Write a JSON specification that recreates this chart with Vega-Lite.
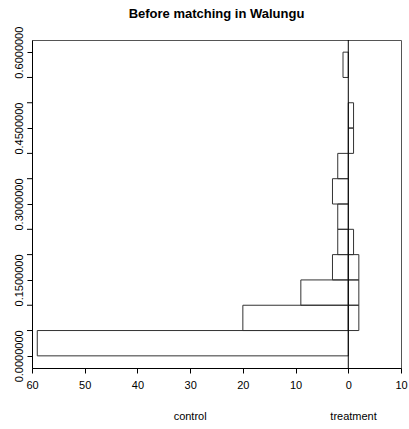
{
  "$schema": "https://vega.github.io/schema/vega-lite/v6.json",
  "width": 369,
  "height": 328,
  "autosize": {"type": "none"},
  "padding": {"left": 32, "top": 40, "right": 8, "bottom": 61},
  "background": "white",
  "title": {"text": "Before matching in Walungu", "fontSize": 13, "font": "Liberation Sans", "fontWeight": "bold", "anchor": "middle", "offset": -5, "baseline": "alphabetic", "color": "black"},
  "config": {"view": {"stroke": "#555", "strokeWidth": 1}, "font": "Liberation Sans"},
  "datasets": {
    "bars": [
      {"group": "control", "bin_start": 0.00, "bin_end": 0.05, "count": -59},
      {"group": "control", "bin_start": 0.05, "bin_end": 0.10, "count": -20},
      {"group": "control", "bin_start": 0.10, "bin_end": 0.15, "count": -9},
      {"group": "control", "bin_start": 0.15, "bin_end": 0.20, "count": -3},
      {"group": "control", "bin_start": 0.20, "bin_end": 0.25, "count": -2},
      {"group": "control", "bin_start": 0.25, "bin_end": 0.30, "count": -2},
      {"group": "control", "bin_start": 0.30, "bin_end": 0.35, "count": -3},
      {"group": "control", "bin_start": 0.35, "bin_end": 0.40, "count": -2},
      {"group": "control", "bin_start": 0.55, "bin_end": 0.60, "count": -1},
      {"group": "treatment", "bin_start": 0.05, "bin_end": 0.10, "count": 2},
      {"group": "treatment", "bin_start": 0.10, "bin_end": 0.15, "count": 2},
      {"group": "treatment", "bin_start": 0.15, "bin_end": 0.20, "count": 2},
      {"group": "treatment", "bin_start": 0.20, "bin_end": 0.25, "count": 1},
      {"group": "treatment", "bin_start": 0.40, "bin_end": 0.45, "count": 1},
      {"group": "treatment", "bin_start": 0.45, "bin_end": 0.50, "count": 1}
    ],
    "zeroline": [{"v": 0}],
    "minorticks": [
      {"t": 0.05}, {"t": 0.10}, {"t": 0.20}, {"t": 0.25},
      {"t": 0.35}, {"t": 0.40}, {"t": 0.50}, {"t": 0.55}
    ],
    "labels": [
      {"label": "control", "pos": -30, "ypos": -0.121},
      {"label": "treatment", "pos": 1, "ypos": -0.121}
    ]
  },
  "layer": [
    {
      "data": {"name": "bars"},
      "mark": {"type": "rect", "fill": "white", "fillOpacity": 0, "stroke": "#333", "strokeWidth": 1},
      "encoding": {
        "y": {
          "field": "bin_start", "type": "quantitative",
          "scale": {"domain": [-0.024, 0.624], "nice": false, "zero": false},
          "axis": {
            "values": [0, 0.15, 0.3, 0.45, 0.6],
            "format": ".7f",
            "labelAngle": 270, "labelAlign": "center", "labelBaseline": "bottom",
            "grid": false, "title": null, "tickSize": 5, "labelPadding": 3,
            "labelFlush": false, "labelOverlap": false, "labelFontSize": 11,
            "labelColor": "black", "tickColor": "black", "domainColor": "black", "labelFont": "Liberation Sans"
          }
        },
        "y2": {"field": "bin_end"},
        "x": {
          "field": "count", "type": "quantitative",
          "scale": {"domain": [-60, 10], "nice": false, "zero": false},
          "axis": {
            "values": [-60, -50, -40, -30, -20, -10, 0, 10],
            "labelExpr": "abs(datum.value)",
            "grid": false, "title": null, "tickSize": 5, "labelPadding": 6,
            "labelFlush": false, "labelOverlap": false, "labelFontSize": 11,
            "labelColor": "black", "tickColor": "black", "domainColor": "black", "labelFont": "Liberation Sans"
          }
        },
        "x2": {"datum": 0}
      }
    },
    {
      "data": {"name": "minorticks"},
      "mark": {"type": "rule", "color": "black", "strokeWidth": 1, "clip": false},
      "encoding": {
        "y": {"field": "t", "type": "quantitative"},
        "x": {"datum": -60.95},
        "x2": {"datum": -60}
      }
    },
    {
      "data": {"name": "zeroline"},
      "mark": {"type": "rule", "color": "black", "strokeWidth": 1},
      "encoding": {"x": {"field": "v", "type": "quantitative"}}
    },
    {
      "data": {"name": "labels"},
      "mark": {"type": "text", "fontSize": 11, "font": "Liberation Sans", "color": "black", "baseline": "middle", "align": "center"},
      "encoding": {
        "x": {"field": "pos", "type": "quantitative"},
        "y": {"field": "ypos", "type": "quantitative"},
        "text": {"field": "label"}
      }
    }
  ]
}
